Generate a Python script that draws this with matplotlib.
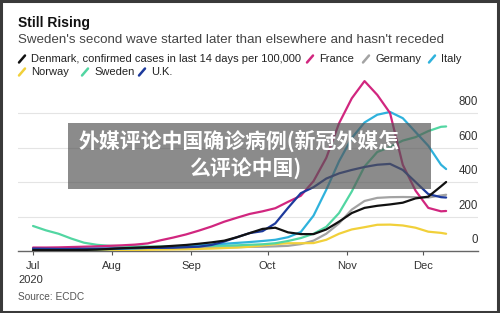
import matplotlib
matplotlib.use("Agg")
import matplotlib.pyplot as plt
from matplotlib.patches import Rectangle
from matplotlib.lines import Line2D
import pandas as pd

plt.rcParams['font.family'] = ['Liberation Sans', 'DejaVu Sans']

# ---- data (14-day confirmed cases per 100,000) ----
dates = list(pd.date_range('2020-07-01', periods=33, freq='5D')) + [pd.Timestamp('2020-12-10')]

denmark = [5, 5, 5, 5, 6, 8, 12, 16, 19, 22, 25, 30, 35, 42, 50, 60, 80, 104, 128, 135,
           108, 98, 98, 125, 170, 220, 250, 262, 270, 280, 305, 315, 375, 400]
france = [20, 20, 21, 23, 25, 27, 30, 33, 37, 44, 62, 78, 96, 118, 142, 170, 193, 215, 230, 248,
          285, 320, 405, 540, 740, 885, 985, 905, 800, 500, 350, 250, 230, 232]
germany = [4, 4, 5, 6, 7, 9, 11, 13, 14, 15, 16, 17, 18, 19, 20, 21, 22, 24, 25, 27,
           30, 40, 60, 100, 160, 240, 290, 308, 312, 313, 312, 310, 322, 326]
italy = [10, 9, 8, 8, 9, 10, 11, 13, 15, 18, 22, 26, 30, 34, 38, 42, 47, 52, 58, 65,
         80, 110, 205, 355, 520, 655, 745, 790, 806, 770, 690, 610, 500, 475]
norway = [2, 2, 2, 2, 3, 3, 4, 5, 6, 7, 8, 9, 10, 12, 14, 17, 20, 25, 32, 40,
          45, 45, 46, 65, 100, 125, 138, 152, 153, 148, 135, 112, 105, 100]
sweden = [145, 120, 100, 72, 48, 36, 30, 28, 27, 26, 26, 27, 28, 29, 30, 31, 33, 36, 39, 45,
          58, 75, 100, 140, 220, 345, 490, 574, 603, 640, 660, 695, 720, 722]
uk = [14, 13, 12, 12, 13, 14, 15, 16, 17, 18, 18, 19, 22, 25, 35, 55, 80, 104, 115, 160,
      250, 335, 370, 420, 450, 470, 487, 500, 505, 470, 400, 330, 312, 310]

series_names = ['Germany', 'Norway', 'Sweden', 'Italy', 'France', 'U.K.', 'Denmark']
series_vals = [germany, norway, sweden, italy, france, uk, denmark]
colors = {'Denmark': '#111111', 'France': '#d1267f', 'Germany': '#a3a3a3', 'Italy': '#2fb2dc',
          'Norway': '#f1d03a', 'Sweden': '#52d6a2', 'U.K.': '#1d3a9c'}

month_ticks = ['2020-07-01', '2020-08-01', '2020-09-01', '2020-10-01', '2020-11-01', '2020-12-01']
month_labels = ['Jul', 'Aug', 'Sep', 'Oct', 'Nov', 'Dec']
y_ticks = [0, 200, 400, 600, 800]

W, H = 500, 313
fig = plt.figure(figsize=(W / 100, H / 100), dpi=100)
fig.patch.set_facecolor('white')


def P(x, y):
    return (x / W, 1 - y / H)


ax = fig.add_axes([18 / W, 1 - 251 / H, 460 / W, 172.5 / H])
for name, vals in zip(series_names, series_vals):
    ax.plot(dates, vals, color=colors[name], lw=1.6, solid_capstyle='round', zorder=3)

ax.set_ylim(0, 1000)
ax.set_xlim(pd.Timestamp('2020-07-01') - pd.Timedelta(days=5.9),
            pd.Timestamp('2020-07-01') + pd.Timedelta(days=174.5))
ax.set_yticks(y_ticks)
ax.yaxis.grid(True, color='#e4e4e4', lw=0.8)
ax.set_axisbelow(True)
ax.tick_params(axis='y', length=0, labelleft=False)
for v in y_ticks:
    ax.annotate(str(v), xy=(1, v), xycoords=('axes fraction', 'data'), xytext=(0, 3.5),
                textcoords='offset points', ha='right', va='bottom', fontsize=8.3, color='#333333')
ax.set_xticks([pd.Timestamp(t) for t in month_ticks])
ax.set_xticklabels(month_labels)
ax.tick_params(axis='x', length=3, width=0.8, color='#555555', labelsize=8,
               labelcolor='#333333', pad=4)
for s in ['top', 'right', 'left']:
    ax.spines[s].set_visible(False)
ax.spines['bottom'].set_color('#666666')
ax.spines['bottom'].set_linewidth(1)

# titles
fig.text(*P(18, 23), 'Still Rising', fontsize=10, weight='bold', color='#111111', va='center')
fig.text(*P(18, 40), "Sweden's second wave started later than elsewhere and hasn't receded",
         fontsize=9.65, color='#444444', va='center')

# legend
legend_items = [('Denmark, confirmed cases in last 14 days per 100,000', 'Denmark', 18, 59),
                ('France', 'France', 306, 59), ('Germany', 'Germany', 362, 59),
                ('Italy', 'Italy', 428, 59),
                ('Norway', 'Norway', 18, 72), ('Sweden', 'Sweden', 81, 72), ('U.K.', 'U.K.', 138, 72)]
for label, key, x0, y0 in legend_items:
    (ax0, ay0), (ax1, ay1) = P(x0 + 1, y0 + 3.5), P(x0 + 7, y0 - 3.5)
    fig.add_artist(Line2D([ax0, ax1], [ay0, ay1], transform=fig.transFigure,
                          color=colors[key], lw=1.8, solid_capstyle='round'))
    fig.text(*P(x0 + 13, y0), label, fontsize=8.0, color='#222222', va='center')

fig.text(*P(18, 280), '2020', fontsize=8, color='#333333', va='center')
fig.text(*P(18, 297), 'Source: ECDC', fontsize=7.3, color='#555555', va='center')

# overlay caption box
bx0, by0 = P(68, 189)
fig.add_artist(Rectangle((bx0, by0), 363 / W, 66 / H, transform=fig.transFigure,
                         facecolor=(0.33, 0.33, 0.33), alpha=0.68, edgecolor='none', zorder=10))
fig.text(*P(239, 141), '外媒评论中国确诊病例(新冠外媒怎', fontsize=15, weight='bold', color='white',
         ha='center', va='center', family=['Noto Sans CJK SC', 'DejaVu Sans'], zorder=11)
fig.text(*P(245, 168), '么评论中国)', fontsize=15, weight='bold', color='white',
         ha='center', va='center', family=['Noto Sans CJK SC', 'DejaVu Sans'], zorder=11)

# frame
fig.add_artist(Rectangle((0.002, 0.003), 0.994, 0.993, transform=fig.transFigure, fill=False,
                         edgecolor='#3a3a3a', lw=2.2, zorder=12))

fig.savefig('out.png', dpi=100, facecolor='white')
